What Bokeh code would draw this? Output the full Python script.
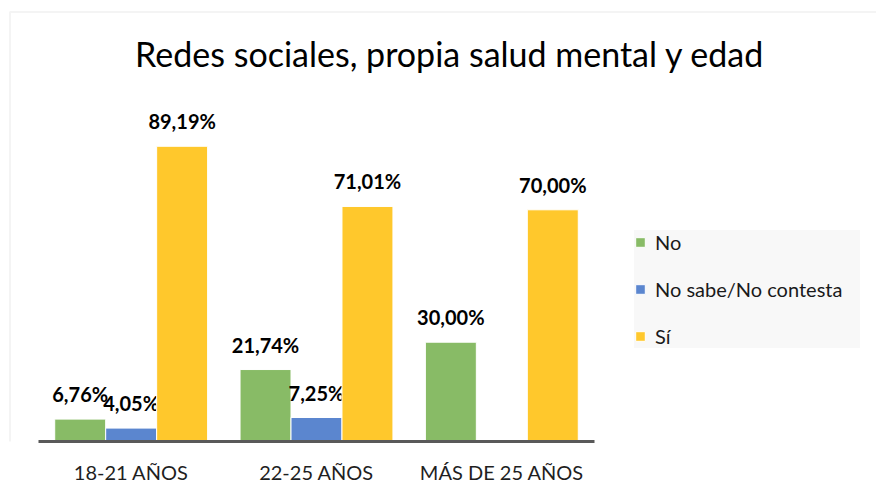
from bokeh.plotting import figure
from bokeh.models import (ColumnDataSource, Range1d, Legend, LegendItem, Label,
                          BoxAnnotation, LinearAxis, FixedTicker)
from bokeh.core.properties import value
from bokeh.embed import file_html
from bokeh.resources import INLINE
import math

# ---- data ----
categories = ["18-21 AÑOS", "22-25 AÑOS", "MÁS DE 25 AÑOS"]
series_names = ["No", "No sabe/No contesta", "Sí"]
no_vals = [6.76, 21.74, 30.00]
ns_vals = [4.05, 7.25, float("nan")]
si_vals = [89.19, 71.01, 70.00]
title_text = "Redes sociales, propia salud mental y edad"

# ---- layout / styles ----
W, H = 876, 495
BASE = 441            # pixel row of the category axis
LEFT = 38             # pixel column where the category band starts
PX_CAT = 185.33       # pixels per category
PX_PCT = 3.31         # pixels per percentage point
colors = ["#88BB66", "#5B86CF", "#FFC82C"]
offsets = [-0.275, 0.0, 0.275]
bar_w = 0.275
FONT = "Lato"

x0 = -LEFT / PX_CAT
x_range = Range1d(x0, x0 + W / PX_CAT)
y_range = Range1d(0, BASE / PX_PCT)


def X(px):
    return x0 + px / PX_CAT


def Y(py):
    return (BASE - py) / PX_PCT


p = figure(width=W, height=H, x_range=x_range, y_range=y_range,
           output_backend="svg", toolbar_location=None,
           x_axis_type=None, y_axis_location=None,
           min_border_left=0, min_border_right=0, min_border_top=0,
           min_border_bottom=H - BASE)
p.outline_line_color = None
p.background_fill_color = "white"
p.border_fill_color = "white"
p.xgrid.visible = False
p.ygrid.visible = False

centers = [i + 0.5 for i in range(len(categories))]
ax = LinearAxis(ticker=FixedTicker(ticks=centers),
                major_label_overrides={c: lab for c, lab in zip(centers, categories)},
                bounds=(0, len(categories)))
ax.axis_line_width = 3
ax.axis_line_color = "#595959"
ax.major_tick_line_color = None
ax.minor_tick_line_color = None
ax.major_tick_in = 0
ax.major_tick_out = 0
ax.minor_tick_in = 0
ax.minor_tick_out = 0
ax.major_label_standoff = 18
ax.major_label_text_font = FONT
ax.major_label_text_font_size = "20px"
ax.major_label_text_color = "#1F1F1F"
p.add_layout(ax, "below")

# outer chart-area border
border = BoxAnnotation(left=X(9.5), right=X(3000), top=Y(11.5), bottom=Y(3000),
                       fill_alpha=0, line_color="#D9D9D9", line_width=2)
p.add_layout(border)

renderers = []
for vals, off, col, name in zip([no_vals, ns_vals, si_vals], offsets, colors, series_names):
    xs = [c + off for c in centers]
    src = ColumnDataSource(dict(x=xs, val=vals))
    r = p.vbar(x="x", top="val", width=bar_w, source=src,
               fill_color=col, line_color="white", line_width=1)
    renderers.append(r)
    lab_x = [x for x, v in zip(xs, vals) if not math.isnan(v)]
    lab_vals = [v for v in vals if not math.isnan(v)]
    lab_txt = [f"{v:.2f}".replace(".", ",") + "%" for v in lab_vals]
    lsrc = ColumnDataSource(dict(x=lab_x, val=lab_vals, txt=lab_txt))
    p.text(x="x", y="val", text="txt", source=lsrc,
           text_align="center", text_baseline="alphabetic", y_offset=-25,
           text_font=value(FONT), text_font_style="bold", text_font_size="20px",
           text_color="#000000")

title = Label(x=X(449.5), y=Y(53), text=title_text,
              text_align="center", text_baseline="alphabetic", text_font=FONT,
              text_font_size="34px", text_color="#000000")
p.add_layout(title)

legend = Legend(items=[LegendItem(label=n, renderers=[r]) for n, r in zip(series_names, renderers)],
                location=(634, BASE - 359 + 11), orientation="vertical",
                background_fill_color="#F8F8F8", background_fill_alpha=1.0,
                border_line_color=None, label_text_font=FONT, label_text_font_size="20px",
                label_text_color="#1A1A1A", glyph_width=12, glyph_height=12,
                label_height=22, spacing=23, padding=12, margin=0,
                label_standoff=9, label_width=205)
p.add_layout(legend)

open("out.html", "w").write(file_html(p, INLINE))
